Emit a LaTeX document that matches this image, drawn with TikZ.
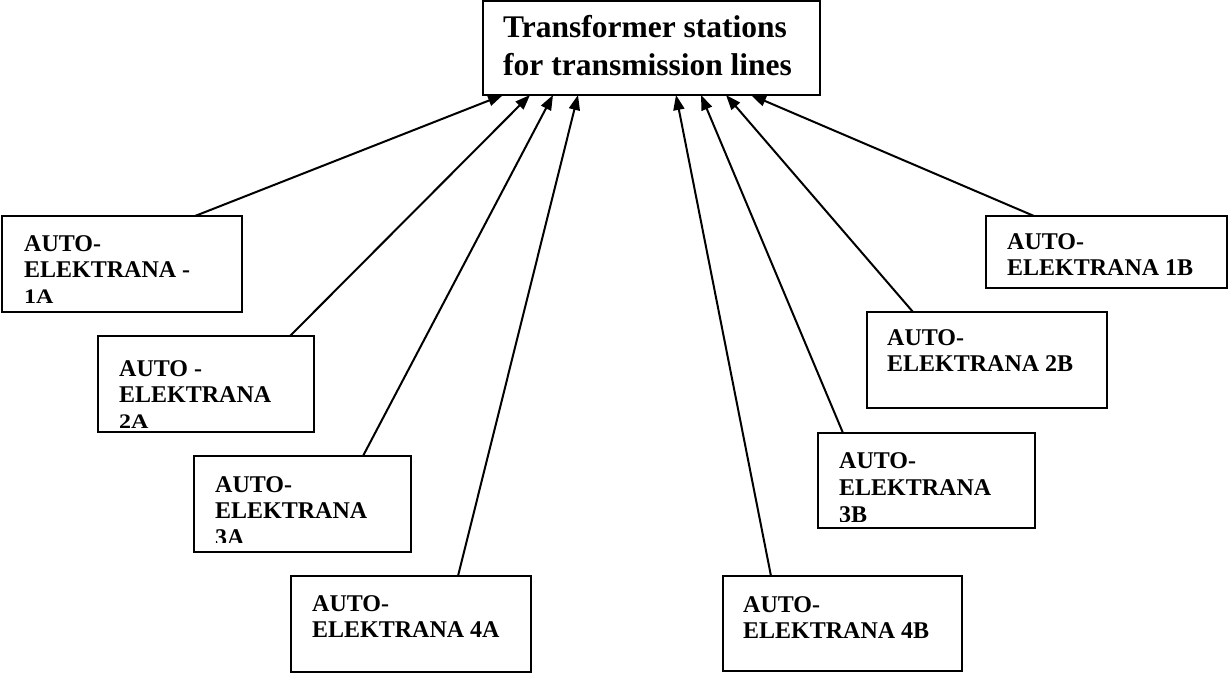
\documentclass[tikz,border=0pt]{standalone}
\usepackage{fontspec}
\usepackage{graphicx}
\setmainfont{Liberation Serif}
\usetikzlibrary{arrows.meta}
\begin{document}
\begin{tikzpicture}[x=1pt,y=-1pt,
  box/.style={draw, rectangle, line width=2pt, inner sep=0pt, outer sep=0pt},
  % labels are placed by the baseline of their last line
  lbl/.style={anchor=base west, inner sep=0pt, align=left,
    font=\fontsize{24}{26}\selectfont\bfseries},
  title/.style={anchor=base west, inner sep=0pt, align=left,
    font=\fontsize{31.5}{38}\selectfont\bfseries},
  conn/.style={line width=2pt, -{Triangle[length=15pt,width=11pt]}}]
\useasboundingbox[fill=white] (0,0) rectangle (1228,675);

% central station box
\node[box, minimum width=337pt, minimum height=94pt] (top) at (651.5,48) {};
\node[title] (toptext) at (503,75) {Transformer stations\\for transmission lines};

% A side
\node[box, minimum width=240pt, minimum height=96pt] (a1) at (122,264) {};
\node[box, minimum width=216pt, minimum height=96pt] (a2) at (206,384) {};
\node[box, minimum width=217pt, minimum height=96pt] (a3) at (302.5,504) {};
\node[box, minimum width=240pt, minimum height=96pt] (a4) at (411,624) {};
% B side
\node[box, minimum width=241pt, minimum height=72pt] (b1) at (1106.5,252) {};
\node[box, minimum width=240pt, minimum height=96pt] (b2) at (987,360) {};
\node[box, minimum width=217pt, minimum height=95pt] (b3) at (926.5,480.5) {};
\node[box, minimum width=239pt, minimum height=95pt] (b4) at (842.5,623.5) {};

% labels
\node[lbl] (a1t) at (24,303) {AUTO-\\ELEKTRANA -\\\scalebox{1}[0.86]{1A}};
\node[lbl] (a2t) at (119,428) {AUTO -\\ELEKTRANA\\\scalebox{1}[0.86]{2A}};
\begin{scope}
  \clip (a3.north west) rectangle ([yshift=10pt]a3.south east);
  \node[lbl, font=\fontsize{24}{26.5}\selectfont\bfseries] (a3t) at (215,545) {AUTO-\\ELEKTRANA\\3A};
\end{scope}
\node[lbl] (a4t) at (312,637) {AUTO-\\ELEKTRANA 4A};
\node[lbl] (b1t) at (1007,275) {AUTO-\\ELEKTRANA 1B};
\node[lbl] (b2t) at (887,371) {AUTO-\\ELEKTRANA 2B};
\begin{scope}
  \clip (b3.north west) rectangle ([yshift=7pt]b3.south east);
  \node[lbl, font=\fontsize{24}{27}\selectfont\bfseries] (b3t) at (839,522) {AUTO-\\ELEKTRANA\\3B};
\end{scope}
\node[lbl] (b4t) at (743,638) {AUTO-\\ELEKTRANA 4B};

% connectors into the station box
\draw[conn] ([xshift=193pt]a1.north west) -- ([xshift=20pt]top.south west);
\draw[conn] ([xshift=192pt]a2.north west) -- ([xshift=47pt]top.south west);
\draw[conn] ([xshift=169pt]a3.north west) -- ([xshift=70pt]top.south west);
\draw[conn] ([xshift=167pt]a4.north west) -- ([xshift=95pt]top.south west);
\draw[conn] ([xshift=48pt]b4.north west) -- ([xshift=193pt]top.south west);
\draw[conn] ([xshift=25pt]b3.north west) -- ([xshift=218pt]top.south west);
\draw[conn] ([xshift=46pt]b2.north west) -- ([xshift=243pt]top.south west);
\draw[conn] ([xshift=48pt]b1.north west) -- ([xshift=268pt]top.south west);
\end{tikzpicture}
\end{document}
